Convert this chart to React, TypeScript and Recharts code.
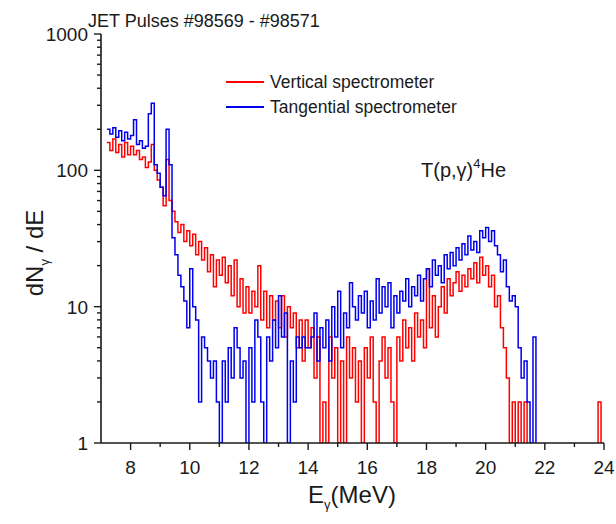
import { Line, LineChart, XAxis, YAxis } from 'recharts'

const FONT = '"Liberation Sans", Arial, sans-serif'
const INK = '#1a1a1a'

// bin start energies (MeV)
const energy = [
  7.2, 7.3, 7.4, 7.5, 7.6, 7.7, 7.8, 7.9,
  8.0, 8.1, 8.2, 8.3, 8.4, 8.5, 8.6, 8.7, 8.8, 8.9,
  9.0, 9.1, 9.2, 9.3, 9.4, 9.5, 9.6, 9.7, 9.8, 9.9,
  10.0, 10.1, 10.2, 10.3, 10.4, 10.5, 10.6, 10.7, 10.8, 10.9,
  11.0, 11.1, 11.2, 11.3, 11.4, 11.5, 11.6, 11.7, 11.8, 11.9,
  12.0, 12.1, 12.2, 12.3, 12.4, 12.5, 12.6, 12.7, 12.8, 12.9,
  13.0, 13.1, 13.2, 13.3, 13.4, 13.5, 13.6, 13.7, 13.8, 13.9,
  14.0, 14.1, 14.2, 14.3, 14.4, 14.5, 14.6, 14.7, 14.8, 14.9,
  15.0, 15.1, 15.2, 15.3, 15.4, 15.5, 15.6, 15.7, 15.8, 15.9,
  16.0, 16.1, 16.2, 16.3, 16.4, 16.5, 16.6, 16.7, 16.8, 16.9,
  17.0, 17.1, 17.2, 17.3, 17.4, 17.5, 17.6, 17.7, 17.8, 17.9,
  18.0, 18.1, 18.2, 18.3, 18.4, 18.5, 18.6, 18.7, 18.8, 18.9,
  19.0, 19.1, 19.2, 19.3, 19.4, 19.5, 19.6, 19.7, 19.8, 19.9,
  20.0, 20.1, 20.2, 20.3, 20.4, 20.5, 20.6, 20.7, 20.8, 20.9,
  21.0, 21.1, 21.2, 21.3, 21.4, 21.5, 21.6, 21.7, 21.8, 21.9,
  22.0, 22.1, 22.2, 22.3, 22.4, 22.5, 22.6, 22.7, 22.8, 22.9,
  23.0, 23.1, 23.2, 23.3, 23.4, 23.5, 23.6, 23.7, 23.8, 23.9,
  24.0,
]

// counts per bin; 0.5 = empty bin (falls below the log axis and is clipped)
const vertical = [
  160, 140, 170, 135, 155, 125, 160, 130,
  150, 130, 140, 120, 125, 105, 115, 155, 100, 85,
  75, 55, 120, 60, 50, 42, 35, 40, 30, 36,
  28, 34, 24, 30, 22, 27, 18, 24, 14, 22,
  17, 23, 15, 20, 12, 22, 10, 16, 9, 14,
  9, 13, 10, 20, 8, 13, 7, 12, 8, 11,
  7, 12, 6, 10, 7, 9, 5, 8, 4, 8,
  5, 7, 3, 6, 1, 2, 1, 6, 3, 5,
  1, 4, 1, 6, 3, 5, 2, 4, 1, 5,
  3, 6, 2, 1, 4, 6, 3, 5, 2, 1,
  6, 4, 8, 5, 7, 4, 9, 6, 8, 5,
  19, 7, 12, 6, 10, 14, 9, 16, 12, 15,
  18, 13, 17, 14, 19, 16, 21, 15, 23, 17,
  20, 14, 17, 10, 12, 7, 5, 3, 1, 2,
  1, 2, 0.5, 2, 0.5, 0.5, 0.5, 0.5, 0.5, 0.5,
  0.5, 0.5, 0.5, 0.5, 0.5, 0.5, 0.5, 0.5, 0.5, 0.5,
  0.5, 0.5, 0.5, 0.5, 0.5, 0.5, 0.5, 0.5, 2, 0.5,
  0.5,
]

const tangential = [
  200, 185, 205, 175, 195, 165, 190, 170,
  180, 235, 155, 165, 145, 150, 260, 310, 110, 95,
  75, 65, 200, 110, 32, 24, 17, 14, 11, 7,
  19, 10, 8, 2, 6, 5, 4, 3, 4, 2,
  1, 4, 2, 5, 3, 7, 5, 3, 4, 1,
  5, 2, 8, 6, 2, 1, 6, 4, 8, 5,
  12, 6, 9, 1, 4, 2, 6, 5, 6, 5,
  5, 6, 9, 4, 7, 5, 8, 4, 10, 6,
  13, 5, 9, 7, 15, 10, 8, 12, 9, 13,
  7, 11, 8, 16, 9, 14, 10, 15, 7, 12,
  9, 13, 11, 16, 10, 14, 12, 17, 11, 16,
  19, 14, 22, 17, 20, 15, 24, 19, 25, 20,
  27, 22, 29, 24, 33, 26, 30, 25, 36, 32,
  38, 30, 36, 28, 24, 18, 22, 14, 11, 12,
  10, 5, 3, 4, 2, 1, 6, 0.5, 0.5, 0.5,
  0.5, 0.5, 0.5, 0.5, 0.5, 0.5, 0.5, 0.5, 0.5, 0.5,
  0.5, 0.5, 0.5, 0.5, 0.5, 0.5, 0.5, 0.5, 0.5, 0.5,
  0.5,
]

const xTicks = [8, 9, 10, 11, 12, 13, 14, 15, 16, 17, 18, 19, 20, 21, 22, 23, 24]
const yTicks = [
  1, 2, 3, 4, 5, 6, 7, 8, 9,
  10, 20, 30, 40, 50, 60, 70, 80, 90,
  100, 200, 300, 400, 500, 600, 700, 800, 900,
  1000,
]
const yLabels = [1, 10, 100, 1000]

const data = energy.map((e, i) => ({ e, v: vertical[i], t: tangential[i] }))

function XTick({ x, y, payload }: any) {
  const major = payload.value % 2 === 0
  return (
    <g>
      <line x1={x} x2={x} y1={y} y2={y + (major ? 7 : 4)} stroke={INK} strokeWidth={1.4} />
      {major && (
        <text x={x} y={y + 31} textAnchor="middle" fontSize={19} fontFamily={FONT} fill={INK}>
          {payload.value}
        </text>
      )}
    </g>
  )
}

function YTick({ x, y, payload }: any) {
  const major = yLabels.includes(payload.value)
  return (
    <g>
      <line x1={x - (major ? 7 : 4)} x2={x} y1={y} y2={y} stroke={INK} strokeWidth={1.4} />
      {major && (
        <text x={x - 13} y={y + 7} textAnchor="end" fontSize={19} fontFamily={FONT} fill={INK}>
          {payload.value}
        </text>
      )}
    </g>
  )
}

export default function App() {
  const axisLine = { stroke: INK, strokeWidth: 1.6 }
  return (
    <div style={{ position: 'absolute', left: 0, top: 0, width: 616, height: 524, background: '#fff' }}>
      <LineChart
        width={616}
        height={524}
        data={data}
        margin={{ top: 34, right: 12, bottom: 41, left: 51 }}
      >
        <XAxis
          dataKey="e"
          type="number"
          domain={[7, 24]}
          allowDataOverflow
          ticks={xTicks}
          interval={0}
          tickSize={0}
          tickMargin={0}
          tickLine={false}
          tick={(p: any) => <XTick {...p} />}
          axisLine={axisLine}
          height={40}
        />
        <XAxis
          xAxisId="top"
          orientation="top"
          type="number"
          domain={[0, 1]}
          tick={false}
          tickLine={false}
          axisLine={axisLine}
          height={0}
        />
        <YAxis
          scale="log"
          type="number"
          domain={[1, 1000]}
          allowDataOverflow
          ticks={yTicks}
          interval={0}
          tickSize={0}
          tickMargin={0}
          tickLine={false}
          tick={(p: any) => <YTick {...p} />}
          axisLine={axisLine}
          width={50}
        />
        <YAxis
          yAxisId="right"
          orientation="right"
          type="number"
          domain={[0, 1]}
          tick={false}
          tickLine={false}
          axisLine={axisLine}
          width={0}
        />
        <Line
          type="stepAfter"
          dataKey="v"
          stroke="#ff0000"
          strokeWidth={1.5}
          dot={false}
          isAnimationActive={false}
        />
        <Line
          type="stepAfter"
          dataKey="t"
          stroke="#0000ee"
          strokeWidth={1.5}
          dot={false}
          isAnimationActive={false}
        />
      </LineChart>

      <svg
        width={616}
        height={524}
        style={{ position: 'absolute', left: 0, top: 0, pointerEvents: 'none' }}
        fontFamily={FONT}
        fill={INK}
      >
        <text x={88} y={27} fontSize={18}>JET Pulses #98569 - #98571</text>

        <line x1={226} x2={264} y1={82} y2={82} stroke="#ff0000" strokeWidth={2} />
        <text x={270} y={88} fontSize={17.5}>Vertical spectrometer</text>
        <line x1={226} x2={264} y1={107} y2={107} stroke="#0000ee" strokeWidth={2} />
        <text x={270} y={113} fontSize={17.5}>Tangential spectrometer</text>

        <text x={421} y={177} fontSize={20}>
          T(p,γ)
          <tspan fontSize={13} dy={-9}>4</tspan>
          <tspan dy={9}>He</tspan>
        </text>

        <text x={352} y={503} fontSize={24} textAnchor="middle">
          E<tspan fontSize={13} dy={6}>γ</tspan>
          <tspan dy={-6}>(MeV)</tspan>
        </text>

        <text transform="translate(43 253) rotate(-90)" fontSize={24} textAnchor="middle">
          dN<tspan fontSize={13} dy={6}>γ</tspan>
          <tspan dy={-6}> / dE</tspan>
        </text>
      </svg>
    </div>
  )
}
